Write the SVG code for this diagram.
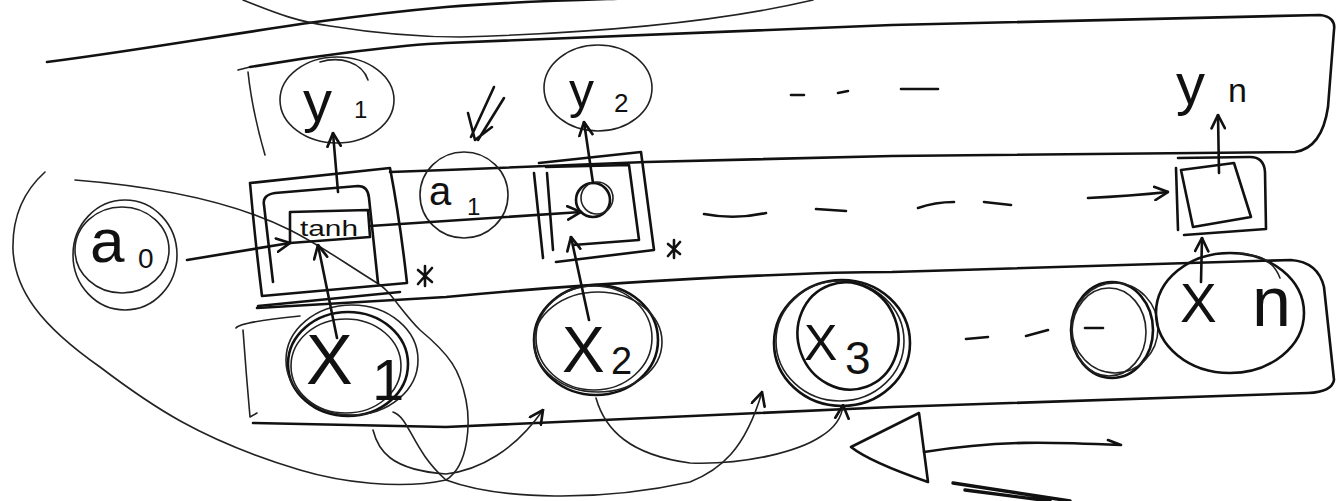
<svg xmlns="http://www.w3.org/2000/svg" width="1337" height="501" viewBox="0 0 1337 501">
<style>
.s{fill:none;stroke:#111;stroke-width:2.6;stroke-linecap:round;stroke-linejoin:round}
.t{fill:none;stroke:#222;stroke-width:1.6;stroke-linecap:round;stroke-linejoin:round}
.k{fill:none;stroke:#111;stroke-width:3.4;stroke-linecap:round;stroke-linejoin:round}
.lb{font-family:"Liberation Sans",Arial,sans-serif;fill:#111}
</style>
<defs>
<marker id="ah" viewBox="0 0 12 12" refX="11" refY="6" markerWidth="16" markerHeight="16" markerUnits="userSpaceOnUse" orient="auto">
<path d="M1,1 L11,6 L1,11" fill="none" stroke="#111" stroke-width="2" stroke-linecap="round"/>
</marker>
</defs>
<rect width="1337" height="501" fill="#fff"/>

<g id="top-strokes">
<path class="s" d="M47,62 C180,45 300,20 446,7 C520,1 580,0 640,-2"/>
<path class="t" d="M243,0 C280,15 300,22 330,26 C380,34 420,37 460,37 C600,33 720,22 813,0"/>
</g>

<g id="output-band">
<path class="t" d="M238,70 L250,67 M248,72 Q252,110 265,155"/>
<path class="s" d="M250,67 C320,55 400,45 446,43 L892,25 L1320,15 Q1336,17 1334,30 L1328,107 Q1322,148 1295,152 L892,156 L646,162 L446,170 L390,172"/>
</g>

<g id="input-band">
<path class="t" d="M236,328 Q240,322 300,316 M243,330 Q246,372 250,417 L257,413"/>
<path class="s" d="M257,308 L446,297 C600,282 800,272 892,272 L1291,260 Q1318,262 1324,287 L1334,380 Q1332,392 1308,393 L892,407 L446,427 L253,423"/>
</g>

<g id="lasso">
<path class="t" d="M45,172 C25,190 12,215 13,250 C15,290 40,325 100,367 C150,405 200,440 300,470 C340,482 400,490 446,480 C470,465 470,420 466,400 C460,370 450,355 420,330 C400,310 390,290 377,283 C340,260 320,245 290,230 C260,215 200,190 75,180"/>
</g>

<g id="a0">
<ellipse class="t" cx="125" cy="255" rx="52" ry="55"/>
<ellipse class="t" cx="122" cy="250" rx="47" ry="43"/>
<text class="lb" x="90" y="262" font-size="62">a</text>
<text class="lb" x="138" y="268" font-size="28">0</text>
</g>

<g id="cell1">
<path class="s" d="M250,183 L390,168 Q400,220 407,283 L262,296 Q255,240 250,183"/>
<path class="s" d="M273,282 L264,205 Q262,195 275,193 L358,186 Q368,186 369,198 L378,283"/>
<path class="s" d="M290,212 L368,210 L370,237 L290,243 Z"/>
<path class="s" d="M258,306 L400,292"/>
<text class="lb" x="300" y="236" font-size="22" textLength="58" lengthAdjust="spacingAndGlyphs">tanh</text>
<path class="s" d="M418,270 L432,282 M432,268 L418,284 M425,266 L425,286"/>
</g>

<g id="y1">
<ellipse class="t" cx="337" cy="100" rx="57" ry="43"/>
<path class="t" d="M320,62 C340,56 362,62 368,80"/>
<text class="lb" x="303" y="121" font-size="58">y</text>
<text class="lb" x="354" y="118" font-size="24">1</text>
</g>

<g id="a1">
<ellipse class="t" cx="464" cy="195" rx="44" ry="43"/>
<text class="lb" x="429" y="205" font-size="40">a</text>
<text class="lb" x="467" y="215" font-size="24">1</text>
</g>

<g id="pointer">
<path class="s" d="M494,87 L471,137 M504,98 L478,140 M468,113 L475,140 L492,127"/>
</g>

<g id="cell2">
<path class="s" d="M539,163 L641,152 L654,250 L556,262"/>
<path class="s" d="M546,167 L629,165 L639,240 L573,245"/>
<path class="s" d="M534,173 L543,258 M547,173 L553,250"/>
<circle class="s" cx="593" cy="200" r="17"/>
<circle class="t" cx="597" cy="198" r="16"/>
<path class="s" d="M668,244 L680,254 M680,242 L668,256 M674,240 L674,258"/>
</g>

<g id="y2">
<ellipse class="t" cx="598" cy="88" rx="54" ry="43"/>
<text class="lb" x="569" y="108" font-size="50">y</text>
<text class="lb" x="614" y="112" font-size="26">2</text>
</g>

<g id="dashes">
<path class="s" d="M791,95 L804,95 M838,93 L848,91 M901,89 L938,89"/>
<path class="s" d="M704,214 Q735,220 766,213 M816,209 L846,211 M918,208 Q935,202 954,202 M984,202 L1011,205"/>
<path class="s" d="M966,339 L988,337 M1026,336 L1048,330"/>
</g>

<g id="celln">
<path class="s" d="M1176,168 L1178,230 M1178,158 L1250,157 Q1264,157 1265,172 L1266,229 L1184,235"/>
<path class="s" d="M1181,170 L1234,163 L1251,217 L1193,227 Z"/>
</g>

<g id="yn">
<text class="lb" x="1176" y="104" font-size="58">y</text>
<text class="lb" x="1228" y="102" font-size="34">n</text>
</g>

<g id="x1">
<ellipse class="s" cx="348" cy="364" rx="60" ry="52"/>
<ellipse class="t" cx="352" cy="360" rx="66" ry="55"/>
<ellipse class="t" cx="346" cy="366" rx="55" ry="47"/>
<text class="lb" x="306" y="384" font-size="70">X</text>
<text class="lb" x="372" y="400" font-size="58">1</text>
</g>

<g id="x2">
<ellipse class="s" cx="596" cy="340" rx="62" ry="55"/>
<ellipse class="t" cx="594" cy="338" rx="58" ry="52"/>
<ellipse class="t" cx="598" cy="342" rx="64" ry="50"/>
<text class="lb" x="562" y="372" font-size="64">X</text>
<text class="lb" x="611" y="374" font-size="38">2</text>
</g>

<g id="x3">
<ellipse class="s" cx="842" cy="343" rx="68" ry="63"/>
<ellipse class="t" cx="840" cy="341" rx="64" ry="60"/>
<ellipse class="s" cx="848" cy="336" rx="50" ry="54" transform="rotate(-20 848 336)"/>
<text class="lb" x="804" y="360" font-size="50">X</text>
<text class="lb" x="845" y="374" font-size="46">3</text>
</g>

<g id="xdash">
<ellipse class="s" cx="1112" cy="330" rx="41" ry="48"/>
<ellipse class="t" cx="1109" cy="332" rx="37" ry="44"/>
<ellipse class="t" cx="1115" cy="328" rx="43" ry="45"/>
<path class="s" d="M1085,328 L1103,328"/>
</g>

<g id="xn">
<ellipse class="s" cx="1230" cy="313" rx="74" ry="60"/>
<path class="t" d="M1238,253 C1262,255 1274,262 1280,278"/>
<text class="lb" x="1180" y="322" font-size="55">X</text>
<text class="lb" x="1252" y="326" font-size="70">n</text>
</g>

<g id="big-arrow">
<path class="s" d="M919,413 L851,447 Q870,462 928,482 L919,413"/>
<path class="s" d="M924,452 C1000,440 1050,442 1121,445 M1108,440 L1121,445"/>
<path class="k" d="M953,483 L1070,501 M965,490 L1050,501"/>
</g>

<g id="connectors">
<path class="s" d="M187,260 L290,243" marker-end="url(#ah)"/>
<path class="s" d="M337,338 L318,245" marker-end="url(#ah)"/>
<path class="s" d="M338,192 L333,133" marker-end="url(#ah)"/>
<path class="s" d="M370,226 L581,212" marker-end="url(#ah)"/>
<path class="s" d="M593,183 L584,122" marker-end="url(#ah)"/>
<path class="s" d="M589,320 L571,237" marker-end="url(#ah)"/>
<path class="s" d="M1088,198 Q1130,196 1168,192" marker-end="url(#ah)"/>
<path class="s" d="M1219,173 L1218,115" marker-end="url(#ah)"/>
<path class="s" d="M1201,282 L1202,238" marker-end="url(#ah)"/>
<path class="t" d="M373,430 C378,450 390,470 446,474 C480,470 515,450 543,410" marker-end="url(#ah)"/>
<path class="t" d="M393,412 C410,418 412,450 446,480 C500,500 600,502 690,482 C720,470 745,450 762,392" marker-end="url(#ah)"/>
<path class="t" d="M596,398 C605,430 630,455 690,463 C750,465 800,450 820,437 C835,428 842,418 843,405" marker-end="url(#ah)"/>
</g>
</svg>
